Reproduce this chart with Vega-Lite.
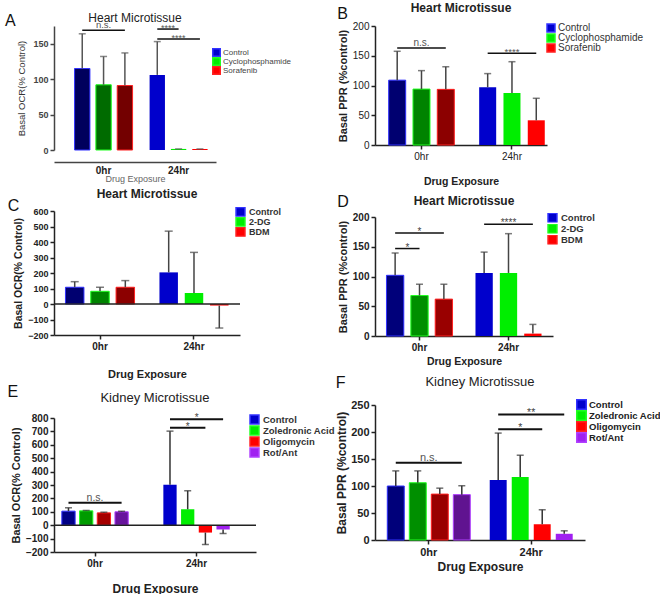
{
"$schema":"https://vega.github.io/schema/vega-lite/v6.json",
"background":"white",
"padding":{"left":4,"top":2,"right":0,"bottom":0},
"config":{"font":"Liberation Sans","view":{"stroke":null},"axis":{"grid":false,"domainColor":"#222","tickColor":"#222","labelColor":"#222","titleColor":"#222","domainWidth":1.5,"tickWidth":1.5,"labelOverlap":false},"legend":{"padding":0,"titlePadding":0}},
"datasets":{
"bars":[
{"panel":"A","time":"0hr","group":"Control","value":115,"err":164},
{"panel":"A","time":"0hr","group":"Cyclophosphamide","value":92,"err":132},
{"panel":"A","time":"0hr","group":"Sorafenib","value":91,"err":137},
{"panel":"A","time":"24hr","group":"Control","value":106,"err":153},
{"panel":"A","time":"24hr","group":"Cyclophosphamide","value":1.5,"err":1.5},
{"panel":"A","time":"24hr","group":"Sorafenib","value":1.5,"err":1.5},
{"panel":"B","time":"0hr","group":"Control","value":109,"err":157.5},
{"panel":"B","time":"0hr","group":"Cyclophosphamide","value":94,"err":125},
{"panel":"B","time":"0hr","group":"Sorafenib","value":93.5,"err":131.5},
{"panel":"B","time":"24hr","group":"Control","value":97,"err":120},
{"panel":"B","time":"24hr","group":"Cyclophosphamide","value":87.5,"err":140},
{"panel":"B","time":"24hr","group":"Sorafenib","value":41.5,"err":78.5},
{"panel":"C","time":"0hr","group":"Control","value":108,"err":144},
{"panel":"C","time":"0hr","group":"2-DG","value":82,"err":108},
{"panel":"C","time":"0hr","group":"BDM","value":108,"err":151},
{"panel":"C","time":"24hr","group":"Control","value":204,"err":470},
{"panel":"C","time":"24hr","group":"2-DG","value":71,"err":333},
{"panel":"C","time":"24hr","group":"BDM","value":-10,"err":-155},
{"panel":"D","time":"0hr","group":"Control","value":102,"err":139.5},
{"panel":"D","time":"0hr","group":"2-DG","value":68,"err":87},
{"panel":"D","time":"0hr","group":"BDM","value":62,"err":87},
{"panel":"D","time":"24hr","group":"Control","value":106,"err":141},
{"panel":"D","time":"24hr","group":"2-DG","value":106,"err":172},
{"panel":"D","time":"24hr","group":"BDM","value":4,"err":19.5},
{"panel":"E","time":"0hr","group":"Control","value":105,"err":130},
{"panel":"E","time":"0hr","group":"Zoledronic Acid","value":107,"err":110},
{"panel":"E","time":"0hr","group":"Oligomycin","value":92,"err":97},
{"panel":"E","time":"0hr","group":"Rot/Ant","value":100,"err":104},
{"panel":"E","time":"24hr","group":"Control","value":302,"err":702},
{"panel":"E","time":"24hr","group":"Zoledronic Acid","value":119,"err":257},
{"panel":"E","time":"24hr","group":"Oligomycin","value":-55,"err":-144},
{"panel":"E","time":"24hr","group":"Rot/Ant","value":-32,"err":-62},
{"panel":"F","time":"0hr","group":"Control","value":100,"err":128},
{"panel":"F","time":"0hr","group":"Zoledronic Acid","value":106,"err":128},
{"panel":"F","time":"0hr","group":"Oligomycin","value":85,"err":96},
{"panel":"F","time":"0hr","group":"Rot/Ant","value":84,"err":100.5},
{"panel":"F","time":"24hr","group":"Control","value":111,"err":198},
{"panel":"F","time":"24hr","group":"Zoledronic Acid","value":116.5,"err":157},
{"panel":"F","time":"24hr","group":"Oligomycin","value":29,"err":56},
{"panel":"F","time":"24hr","group":"Rot/Ant","value":11.5,"err":17}
],
"brackets":[
{"panel":"A","id":"a1","time":"0hr","group":"Control","y":169},
{"panel":"A","id":"a1","time":"0hr","group":"Sorafenib","y":169},
{"panel":"A","id":"a2","time":"24hr","group":"Control","y":170.7},
{"panel":"A","id":"a2","time":"24hr","group":"Cyclophosphamide","y":170.7},
{"panel":"A","id":"a3","time":"24hr","group":"Control","y":156.6},
{"panel":"A","id":"a3","time":"24hr","group":"Sorafenib","y":156.6},
{"panel":"B","id":"b1","time":"0hr","group":"Control","y":163},
{"panel":"B","id":"b1","time":"0hr","group":"Sorafenib","y":163},
{"panel":"B","id":"b2","time":"24hr","group":"Control","y":154},
{"panel":"B","id":"b2","time":"24hr","group":"Sorafenib","y":154},
{"panel":"D","id":"d1","time":"0hr","group":"Control","y":147},
{"panel":"D","id":"d1","time":"0hr","group":"2-DG","y":147},
{"panel":"D","id":"d2","time":"0hr","group":"Control","y":173},
{"panel":"D","id":"d2","time":"0hr","group":"BDM","y":173},
{"panel":"D","id":"d3","time":"24hr","group":"Control","y":188},
{"panel":"D","id":"d3","time":"24hr","group":"BDM","y":188},
{"panel":"E","id":"e1","time":"0hr","group":"Control","y":167},
{"panel":"E","id":"e1","time":"0hr","group":"Rot/Ant","y":167},
{"panel":"E","id":"e2","time":"24hr","group":"Control","y":727},
{"panel":"E","id":"e2","time":"24hr","group":"Oligomycin","y":727},
{"panel":"E","id":"e3","time":"24hr","group":"Control","y":791},
{"panel":"E","id":"e3","time":"24hr","group":"Rot/Ant","y":791},
{"panel":"F","id":"f1","time":"0hr","group":"Control","y":143},
{"panel":"F","id":"f1","time":"0hr","group":"Rot/Ant","y":143},
{"panel":"F","id":"f2","time":"24hr","group":"Control","y":205},
{"panel":"F","id":"f2","time":"24hr","group":"Oligomycin","y":205},
{"panel":"F","id":"f3","time":"24hr","group":"Control","y":232.6},
{"panel":"F","id":"f3","time":"24hr","group":"Rot/Ant","y":232.6}
],
"sig":[
{"panel":"A","time":"0hr","group":"Cyclophosphamide","y":169,"label":"n.s.","span":3},
{"panel":"A","time":"24hr","group":"Control","y":170.7,"label":"****","span":2},
{"panel":"A","time":"24hr","group":"Cyclophosphamide","y":156.6,"label":"****","span":3},
{"panel":"B","time":"0hr","group":"Cyclophosphamide","y":163,"label":"n.s.","span":3},
{"panel":"B","time":"24hr","group":"Cyclophosphamide","y":154,"label":"****","span":3},
{"panel":"D","time":"0hr","group":"Control","y":147,"label":"*","span":2},
{"panel":"D","time":"0hr","group":"2-DG","y":173,"label":"*","span":3},
{"panel":"D","time":"24hr","group":"2-DG","y":188,"label":"****","span":3},
{"panel":"E","time":"0hr","group":"Zoledronic Acid","y":167,"label":"n.s.","span":4},
{"panel":"E","time":"24hr","group":"Zoledronic Acid","y":727,"label":"*","span":3},
{"panel":"E","time":"24hr","group":"Zoledronic Acid","y":791,"label":"*","span":4},
{"panel":"F","time":"0hr","group":"Zoledronic Acid","y":143,"label":"n.s.","span":4},
{"panel":"F","time":"24hr","group":"Zoledronic Acid","y":205,"label":"*","span":3},
{"panel":"F","time":"24hr","group":"Zoledronic Acid","y":232.6,"label":"**","span":4}
]
},
"resolve":{"scale":{"color":"independent","stroke":"independent","xOffset":"independent"},"legend":{"color":"independent"}},
"spacing":0,"align":"none",
"hconcat":[
{"resolve":{"scale":{"color":"independent","stroke":"independent","xOffset":"independent"},"legend":{"color":"independent"}},
"spacing":5,"align":"each",
"vconcat":[
{"resolve":{"scale":{"color":"independent","stroke":"independent","xOffset":"independent"},"legend":{"color":"independent"}},
"title":{"text":"A","anchor":"start","frame":"bounds","fontSize":16,"fontWeight":"normal","color":"#111","offset":-17,"dx":-12},
"vconcat":[{
"width":162,"height":124,
"title":{"text":"Heart Microtissue","fontSize":12,"fontWeight":"normal","offset":-5,"color":"#222"},
"layer":[
{"data":{"name":"bars"},"transform":[{"filter":"datum.panel=='A'"}],"mark":{"type":"bar"},
"encoding":{
"x":{"field":"time","type":"nominal","scale":{"domain":["0hr","24hr"],"paddingInner":0.227,"paddingOuter":0.193,"align":0.71},"axis":{"title":"Drug Exposure","labelAngle":0,"ticks":false,"offset":12,"labelFontWeight":"bold","labelFontSize":10,"labelPadding":3,"titleFontWeight":"normal","titleFontSize":9,"titleColor":"#666","titlePadding":-1,"domainColor":"#444"}},
"xOffset":{"field":"group","type":"nominal","scale":{"domain":["Control","Cyclophosphamide","Sorafenib"],"paddingInner":0.28,"paddingOuter":0}},
"y":{"field":"value","type":"quantitative","scale":{"domain":[0,175],"nice":false,"zero":false},"axis":{"title":"Basal OCR(% Control)","values":[0,50,100,150],"tickCount":4,"labelOverlap":false,"tickSize":4,"labelFontSize":9,"labelFontWeight":"bold","labelColor":"#444","titleFontSize":9.5,"titleFontWeight":"normal","titleColor":"#333","titlePadding":6,"domainColor":"#444","tickColor":"#444"}},
"color":{"field":"group","type":"nominal","scale":{"domain":["Control","Cyclophosphamide","Sorafenib"],"range":["#0000cc","#00ee00","#ff0000"]},"legend":{"orient":"none","legendX":158,"legendY":22,"title":null,"symbolType":"square","symbolSize":56,"labelFontSize":8,"labelColor":"#444","rowPadding":0,"clipHeight":9,"labelOffset":2}}
}},
{"data":{"name":"bars"},"transform":[{"filter":"datum.panel=='A' && datum.time=='0hr'"}],"mark":{"type":"bar","fill":"black","fillOpacity":0.55,"strokeWidth":1},
"encoding":{"x":{"field":"time","type":"nominal"},"xOffset":{"field":"group","type":"nominal"},"y":{"field":"value","type":"quantitative"},"stroke":{"field":"group","type":"nominal","scale":{"domain":["Control","Cyclophosphamide","Sorafenib"],"range":["#3333ff","#22ff22","#ff2222"]},"legend":null}}},
{"data":{"name":"bars"},"transform":[{"filter":"datum.panel=='A'"}],"mark":{"type":"rule","color":"#555","strokeWidth":1.5},
"encoding":{"x":{"field":"time","type":"nominal"},"xOffset":{"field":"group","type":"nominal"},"y":{"field":"value","type":"quantitative"},"y2":{"field":"err"}}},
{"data":{"name":"bars"},"transform":[{"filter":"datum.panel=='A'"}],"mark":{"type":"tick","orient":"horizontal","color":"#555","size":7,"thickness":1.5},
"encoding":{"x":{"field":"time","type":"nominal"},"xOffset":{"field":"group","type":"nominal"},"y":{"field":"err","type":"quantitative"}}},
{"data":{"name":"brackets"},"transform":[{"filter":"datum.panel=='A'"}],"mark":{"type":"line","color":"#111","strokeWidth":1.5},
"encoding":{"x":{"field":"time","type":"nominal"},"xOffset":{"field":"group","type":"nominal"},"y":{"field":"y","type":"quantitative"},"detail":{"field":"id"}}},
{"data":{"name":"sig"},"transform":[{"filter":"datum.panel=='A' && datum.span % 2 == 1 && datum.label == 'n.s.'"}],"mark":{"type":"text","baseline":"alphabetic","dy":-2,"fontSize":9.5,"color":"#555"},
"encoding":{"x":{"field":"time","type":"nominal"},"xOffset":{"field":"group","type":"nominal"},"y":{"field":"y","type":"quantitative"},"text":{"field":"label"}}},
{"data":{"name":"sig"},"transform":[{"filter":"datum.panel=='A' && datum.span % 2 == 1 && datum.label != 'n.s.'"}],"mark":{"type":"text","baseline":"alphabetic","dy":2,"fontSize":9,"color":"#555"},
"encoding":{"x":{"field":"time","type":"nominal"},"xOffset":{"field":"group","type":"nominal"},"y":{"field":"y","type":"quantitative"},"text":{"field":"label"}}},
{"data":{"name":"sig"},"transform":[{"filter":"datum.panel=='A' && datum.span % 2 == 0"}],"mark":{"type":"text","baseline":"alphabetic","dy":2,"dx":10.6,"fontSize":9,"color":"#555"},
"encoding":{"x":{"field":"time","type":"nominal"},"xOffset":{"field":"group","type":"nominal"},"y":{"field":"y","type":"quantitative"},"text":{"field":"label"}}}
]}]},
{"resolve":{"scale":{"color":"independent","stroke":"independent","xOffset":"independent"},"legend":{"color":"independent"}},
"title":{"text":"C","anchor":"start","frame":"bounds","fontSize":16,"fontWeight":"normal","color":"#111","offset":-26,"dx":-6},
"vconcat":[{
"width":186,"height":124,
"title":{"text":"Heart Microtissue","fontSize":12,"fontWeight":"bold","offset":6,"color":"#222"},
"layer":[
{"data":{"name":"bars"},"transform":[{"filter":"datum.panel=='C'"}],"mark":{"type":"bar"},
"encoding":{
"x":{"field":"time","type":"nominal","scale":{"domain":["0hr","24hr"],"paddingInner":0.265,"paddingOuter":0.122},"axis":{"title":"Drug Exposure","labelAngle":0,"tickSize":4,"labelFontWeight":"bold","labelFontSize":10,"labelPadding":2,"titleFontWeight":"bold","titleFontSize":11,"titlePadding":17}},
"xOffset":{"field":"group","type":"nominal","scale":{"domain":["Control","2-DG","BDM"],"paddingInner":0.27,"paddingOuter":0}},
"y":{"field":"value","type":"quantitative","scale":{"domain":[-200,600],"nice":false,"zero":false},"axis":{"title":"Basal OCR(% Control)","values":[-200,-100,0,100,200,300,400,500,600],"tickCount":9,"labelOverlap":false,"tickSize":4,"labelFontSize":9,"labelFontWeight":"bold","titleFontSize":10.5,"titleFontWeight":"bold","titlePadding":4}},
"color":{"field":"group","type":"nominal","scale":{"domain":["Control","2-DG","BDM"],"range":["#0000cc","#00ee00","#ff0000"]},"legend":{"orient":"none","legendX":181,"legendY":-4,"title":null,"symbolType":"square","symbolSize":80,"labelFontSize":9,"labelFontWeight":"bold","labelColor":"#333","rowPadding":0,"clipHeight":9.7,"labelOffset":3}}
}},
{"data":{"name":"bars"},"transform":[{"filter":"datum.panel=='C' && datum.time=='0hr'"}],"mark":{"type":"bar","fill":"black","fillOpacity":0.45,"strokeWidth":1},
"encoding":{"x":{"field":"time","type":"nominal"},"xOffset":{"field":"group","type":"nominal"},"y":{"field":"value","type":"quantitative"},"stroke":{"field":"group","type":"nominal","scale":{"domain":["Control","2-DG","BDM"],"range":["#3333ff","#22ff22","#ff2222"]},"legend":null}}},
{"data":{"values":[{}]},"mark":{"type":"rule","color":"#222","strokeWidth":1.5},"encoding":{"y":{"datum":0,"type":"quantitative"}}},
{"data":{"name":"bars"},"transform":[{"filter":"datum.panel=='C'"}],"mark":{"type":"rule","color":"#444","strokeWidth":1.5},
"encoding":{"x":{"field":"time","type":"nominal"},"xOffset":{"field":"group","type":"nominal"},"y":{"field":"value","type":"quantitative"},"y2":{"field":"err"}}},
{"data":{"name":"bars"},"transform":[{"filter":"datum.panel=='C'"}],"mark":{"type":"tick","orient":"horizontal","color":"#444","size":8,"thickness":1.5},
"encoding":{"x":{"field":"time","type":"nominal"},"xOffset":{"field":"group","type":"nominal"},"y":{"field":"err","type":"quantitative"}}}
]}]},
{"resolve":{"scale":{"color":"independent","stroke":"independent","xOffset":"independent"},"legend":{"color":"independent"}},
"title":{"text":"E","anchor":"start","frame":"bounds","fontSize":16,"fontWeight":"normal","color":"#111","offset":-8,"dx":-3},
"vconcat":[{
"width":202,"height":134,
"title":{"text":"Kidney Microtissue","fontSize":13,"fontWeight":"normal","offset":8,"color":"#222"},
"layer":[
{"data":{"name":"bars"},"transform":[{"filter":"datum.panel=='E'"}],"mark":{"type":"bar"},
"encoding":{
"x":{"field":"time","type":"nominal","scale":{"domain":["0hr","24hr"],"paddingInner":0.346,"paddingOuter":0.168,"align":0.23},"axis":{"title":"Drug Exposure","labelAngle":0,"tickSize":4,"labelFontWeight":"bold","labelFontSize":10,"labelPadding":2,"titleFontWeight":"bold","titleFontSize":12,"titlePadding":15}},
"xOffset":{"field":"group","type":"nominal","scale":{"domain":["Control","Zoledronic Acid","Oligomycin","Rot/Ant"],"paddingInner":0.25,"paddingOuter":0}},
"y":{"field":"value","type":"quantitative","scale":{"domain":[-200,800],"nice":false,"zero":false},"axis":{"title":"Basal OCR(% Control)","values":[-200,-100,0,100,200,300,400,500,600,700,800],"tickCount":11,"labelOverlap":false,"tickSize":4,"labelFontSize":10,"labelFontWeight":"bold","titleFontSize":11,"titleFontWeight":"bold","titlePadding":4}},
"color":{"field":"group","type":"nominal","scale":{"domain":["Control","Zoledronic Acid","Oligomycin","Rot/Ant"],"range":["#0000cc","#00ee00","#ff0000","#a020f0"]},"legend":{"orient":"none","legendX":195,"legendY":-4,"title":null,"symbolType":"square","symbolSize":80,"labelFontSize":9.5,"labelFontWeight":"bold","labelColor":"#333","rowPadding":0,"clipHeight":11,"labelOffset":3}}
}},
{"data":{"name":"bars"},"transform":[{"filter":"datum.panel=='E' && datum.time=='0hr'"}],"mark":{"type":"bar","fill":"black","fillOpacity":0.35,"strokeWidth":1},
"encoding":{"x":{"field":"time","type":"nominal"},"xOffset":{"field":"group","type":"nominal"},"y":{"field":"value","type":"quantitative"},"stroke":{"field":"group","type":"nominal","scale":{"domain":["Control","Zoledronic Acid","Oligomycin","Rot/Ant"],"range":["#3333ff","#22ff22","#ff2222","#b040ff"]},"legend":null}}},
{"data":{"values":[{}]},"mark":{"type":"rule","color":"#222","strokeWidth":1.5},"encoding":{"y":{"datum":0,"type":"quantitative"}}},
{"data":{"name":"bars"},"transform":[{"filter":"datum.panel=='E'"}],"mark":{"type":"rule","color":"#333","strokeWidth":1.5},
"encoding":{"x":{"field":"time","type":"nominal"},"xOffset":{"field":"group","type":"nominal"},"y":{"field":"value","type":"quantitative"},"y2":{"field":"err"}}},
{"data":{"name":"bars"},"transform":[{"filter":"datum.panel=='E'"}],"mark":{"type":"tick","orient":"horizontal","color":"#333","size":7,"thickness":1.5},
"encoding":{"x":{"field":"time","type":"nominal"},"xOffset":{"field":"group","type":"nominal"},"y":{"field":"err","type":"quantitative"}}},
{"data":{"name":"brackets"},"transform":[{"filter":"datum.panel=='E'"}],"mark":{"type":"line","color":"#111","strokeWidth":2},
"encoding":{"x":{"field":"time","type":"nominal"},"xOffset":{"field":"group","type":"nominal"},"y":{"field":"y","type":"quantitative"},"detail":{"field":"id"}}},
{"data":{"name":"sig"},"transform":[{"filter":"datum.panel=='E' && datum.span % 2 == 0 && datum.label == 'n.s.'"}],"mark":{"type":"text","baseline":"alphabetic","dy":-2,"dx":8.9,"fontSize":10.5,"color":"#555"},
"encoding":{"x":{"field":"time","type":"nominal"},"xOffset":{"field":"group","type":"nominal"},"y":{"field":"y","type":"quantitative"},"text":{"field":"label"}}},
{"data":{"name":"sig"},"transform":[{"filter":"datum.panel=='E' && datum.span % 2 == 1 && datum.label != 'n.s.'"}],"mark":{"type":"text","baseline":"alphabetic","dy":2,"fontSize":10,"color":"#444"},
"encoding":{"x":{"field":"time","type":"nominal"},"xOffset":{"field":"group","type":"nominal"},"y":{"field":"y","type":"quantitative"},"text":{"field":"label"}}},
{"data":{"name":"sig"},"transform":[{"filter":"datum.panel=='E' && datum.span % 2 == 0 && datum.label != 'n.s.'"}],"mark":{"type":"text","baseline":"alphabetic","dy":2,"dx":8.9,"fontSize":10,"color":"#444"},
"encoding":{"x":{"field":"time","type":"nominal"},"xOffset":{"field":"group","type":"nominal"},"y":{"field":"y","type":"quantitative"},"text":{"field":"label"}}}
]}]}
]},
{"resolve":{"scale":{"color":"independent","stroke":"independent","xOffset":"independent"},"legend":{"color":"independent"}},
"spacing":7,"align":"each",
"vconcat":[
{"resolve":{"scale":{"color":"independent","stroke":"independent","xOffset":"independent"},"legend":{"color":"independent"}},
"title":{"text":"B","anchor":"start","frame":"bounds","fontSize":16,"fontWeight":"normal","color":"#111","offset":-20,"dx":0},
"vconcat":[{
"width":172,"height":119,
"title":{"text":"Heart Microtissue","fontSize":12,"fontWeight":"bold","offset":6,"color":"#222"},
"layer":[
{"data":{"name":"bars"},"transform":[{"filter":"datum.panel=='B'"}],"mark":{"type":"bar"},
"encoding":{
"x":{"field":"time","type":"nominal","scale":{"domain":["0hr","24hr"],"paddingInner":0.275,"paddingOuter":0.088,"align":0.86},"axis":{"title":"Drug Exposure","labelAngle":0,"tickSize":4,"labelFontWeight":"normal","labelFontSize":10,"labelPadding":2,"titleFontWeight":"bold","titleFontSize":10.5,"titlePadding":15}},
"xOffset":{"field":"group","type":"nominal","scale":{"domain":["Control","Cyclophosphamide","Sorafenib"],"paddingInner":0.3,"paddingOuter":0}},
"y":{"field":"value","type":"quantitative","scale":{"domain":[0,200],"nice":false,"zero":false},"axis":{"title":"Basal PPR (%control)","values":[0,50,100,150,200],"tickCount":5,"labelOverlap":false,"tickSize":4,"labelFontSize":10,"labelFontWeight":"normal","titleFontSize":11,"titleFontWeight":"bold","titlePadding":4}},
"color":{"field":"group","type":"nominal","scale":{"domain":["Control","Cyclophosphamide","Sorafenib"],"range":["#0000cc","#00ee00","#ff0000"]},"legend":{"orient":"none","legendX":171,"legendY":-3,"title":null,"symbolType":"square","symbolSize":64,"labelFontSize":10,"labelColor":"#333","rowPadding":0,"clipHeight":10,"labelOffset":2}}
}},
{"data":{"name":"bars"},"transform":[{"filter":"datum.panel=='B' && datum.time=='0hr'"}],"mark":{"type":"bar","fill":"black","fillOpacity":0.45,"strokeWidth":1},
"encoding":{"x":{"field":"time","type":"nominal"},"xOffset":{"field":"group","type":"nominal"},"y":{"field":"value","type":"quantitative"},"stroke":{"field":"group","type":"nominal","scale":{"domain":["Control","Cyclophosphamide","Sorafenib"],"range":["#3333ff","#22ff22","#ff2222"]},"legend":null}}},
{"data":{"name":"bars"},"transform":[{"filter":"datum.panel=='B'"}],"mark":{"type":"rule","color":"#444","strokeWidth":1.5},
"encoding":{"x":{"field":"time","type":"nominal"},"xOffset":{"field":"group","type":"nominal"},"y":{"field":"value","type":"quantitative"},"y2":{"field":"err"}}},
{"data":{"name":"bars"},"transform":[{"filter":"datum.panel=='B'"}],"mark":{"type":"tick","orient":"horizontal","color":"#444","size":7,"thickness":1.5},
"encoding":{"x":{"field":"time","type":"nominal"},"xOffset":{"field":"group","type":"nominal"},"y":{"field":"err","type":"quantitative"}}},
{"data":{"name":"brackets"},"transform":[{"filter":"datum.panel=='B'"}],"mark":{"type":"line","color":"#111","strokeWidth":1.5},
"encoding":{"x":{"field":"time","type":"nominal"},"xOffset":{"field":"group","type":"nominal"},"y":{"field":"y","type":"quantitative"},"detail":{"field":"id"}}},
{"data":{"name":"sig"},"transform":[{"filter":"datum.panel=='B' && datum.label == 'n.s.'"}],"mark":{"type":"text","baseline":"alphabetic","dy":-2,"fontSize":10,"color":"#555"},
"encoding":{"x":{"field":"time","type":"nominal"},"xOffset":{"field":"group","type":"nominal"},"y":{"field":"y","type":"quantitative"},"text":{"field":"label"}}},
{"data":{"name":"sig"},"transform":[{"filter":"datum.panel=='B' && datum.label != 'n.s.'"}],"mark":{"type":"text","baseline":"alphabetic","dy":2,"fontSize":9.5,"color":"#555"},
"encoding":{"x":{"field":"time","type":"nominal"},"xOffset":{"field":"group","type":"nominal"},"y":{"field":"y","type":"quantitative"},"text":{"field":"label"}}}
]}]},
{"resolve":{"scale":{"color":"independent","stroke":"independent","xOffset":"independent"},"legend":{"color":"independent"}},
"title":{"text":"D","anchor":"start","frame":"bounds","fontSize":16,"fontWeight":"normal","color":"#111","offset":-15,"dx":0},
"vconcat":[{
"width":178,"height":119,
"title":{"text":"Heart Microtissue","fontSize":12,"fontWeight":"bold","offset":4,"color":"#222"},
"layer":[
{"data":{"name":"bars"},"transform":[{"filter":"datum.panel=='D'"}],"mark":{"type":"bar"},
"encoding":{
"x":{"field":"time","type":"nominal","scale":{"domain":["0hr","24hr"],"paddingInner":0.258,"paddingOuter":0.129},"axis":{"title":"Drug Exposure","labelAngle":0,"tickSize":4,"labelFontWeight":"bold","labelFontSize":10,"labelPadding":2,"titleFontWeight":"bold","titleFontSize":10.5,"titlePadding":4}},
"xOffset":{"field":"group","type":"nominal","scale":{"domain":["Control","2-DG","BDM"],"paddingInner":0.29,"paddingOuter":0}},
"y":{"field":"value","type":"quantitative","scale":{"domain":[0,200],"nice":false,"zero":false},"axis":{"title":"Basal PPR (%control)","values":[0,50,100,150,200],"tickCount":5,"labelOverlap":false,"tickSize":4,"labelFontSize":10,"labelFontWeight":"bold","titleFontSize":11,"titleFontWeight":"bold","titlePadding":4}},
"color":{"field":"group","type":"nominal","scale":{"domain":["Control","2-DG","BDM"],"range":["#0000cc","#00ee00","#ff0000"]},"legend":{"orient":"none","legendX":172,"legendY":-4,"title":null,"symbolType":"square","symbolSize":80,"labelFontSize":9.5,"labelFontWeight":"bold","labelColor":"#333","rowPadding":0,"clipHeight":9.5,"labelOffset":3}}
}},
{"data":{"name":"bars"},"transform":[{"filter":"datum.panel=='D' && datum.time=='0hr'"}],"mark":{"type":"bar","fill":"black","fillOpacity":0.4,"strokeWidth":1},
"encoding":{"x":{"field":"time","type":"nominal"},"xOffset":{"field":"group","type":"nominal"},"y":{"field":"value","type":"quantitative"},"stroke":{"field":"group","type":"nominal","scale":{"domain":["Control","2-DG","BDM"],"range":["#3333ff","#22ff22","#ff2222"]},"legend":null}}},
{"data":{"name":"bars"},"transform":[{"filter":"datum.panel=='D'"}],"mark":{"type":"rule","color":"#444","strokeWidth":1.5},
"encoding":{"x":{"field":"time","type":"nominal"},"xOffset":{"field":"group","type":"nominal"},"y":{"field":"value","type":"quantitative"},"y2":{"field":"err"}}},
{"data":{"name":"bars"},"transform":[{"filter":"datum.panel=='D'"}],"mark":{"type":"tick","orient":"horizontal","color":"#444","size":7,"thickness":1.5},
"encoding":{"x":{"field":"time","type":"nominal"},"xOffset":{"field":"group","type":"nominal"},"y":{"field":"err","type":"quantitative"}}},
{"data":{"name":"brackets"},"transform":[{"filter":"datum.panel=='D'"}],"mark":{"type":"line","color":"#111","strokeWidth":1.5},
"encoding":{"x":{"field":"time","type":"nominal"},"xOffset":{"field":"group","type":"nominal"},"y":{"field":"y","type":"quantitative"},"detail":{"field":"id"}}},
{"data":{"name":"sig"},"transform":[{"filter":"datum.panel=='D' && datum.span % 2 == 1"}],"mark":{"type":"text","baseline":"alphabetic","dy":2,"fontSize":10,"color":"#444"},
"encoding":{"x":{"field":"time","type":"nominal"},"xOffset":{"field":"group","type":"nominal"},"y":{"field":"y","type":"quantitative"},"text":{"field":"label"}}},
{"data":{"name":"sig"},"transform":[{"filter":"datum.panel=='D' && datum.span % 2 == 0"}],"mark":{"type":"text","baseline":"alphabetic","dy":2,"dx":12.2,"fontSize":10,"color":"#444"},
"encoding":{"x":{"field":"time","type":"nominal"},"xOffset":{"field":"group","type":"nominal"},"y":{"field":"y","type":"quantitative"},"text":{"field":"label"}}}
]}]},
{"resolve":{"scale":{"color":"independent","stroke":"independent","xOffset":"independent"},"legend":{"color":"independent"}},
"title":{"text":"F","anchor":"start","frame":"bounds","fontSize":16,"fontWeight":"normal","color":"#111","offset":-15,"dx":0},
"vconcat":[{
"width":210,"height":135,
"title":{"text":"Kidney Microtissue","fontSize":13,"fontWeight":"normal","offset":10.5,"color":"#222"},
"layer":[
{"data":{"name":"bars"},"transform":[{"filter":"datum.panel=='F'"}],"mark":{"type":"bar"},
"encoding":{
"x":{"field":"time","type":"nominal","scale":{"domain":["0hr","24hr"],"paddingInner":0.19,"paddingOuter":0.12},"axis":{"title":"Drug Exposure","labelAngle":0,"tickSize":4,"labelFontWeight":"bold","labelFontSize":11,"labelPadding":2,"titleFontWeight":"bold","titleFontSize":12,"titlePadding":4}},
"xOffset":{"field":"group","type":"nominal","scale":{"domain":["Control","Zoledronic Acid","Oligomycin","Rot/Ant"],"paddingInner":0.23,"paddingOuter":0}},
"y":{"field":"value","type":"quantitative","scale":{"domain":[0,250],"nice":false,"zero":false},"axis":{"title":"Basal PPR (%control)","values":[0,50,100,150,200,250],"tickCount":6,"labelOverlap":false,"tickSize":4,"labelFontSize":11,"labelFontWeight":"bold","titleFontSize":12,"titleFontWeight":"bold","titlePadding":2}},
"color":{"field":"group","type":"nominal","scale":{"domain":["Control","Zoledronic Acid","Oligomycin","Rot/Ant"],"range":["#0000cc","#00ee00","#ff0000","#a020f0"]},"legend":{"orient":"none","legendX":201,"legendY":-6,"title":null,"symbolType":"square","symbolSize":90,"labelFontSize":9.5,"labelFontWeight":"bold","labelColor":"#222","rowPadding":0,"clipHeight":11,"labelOffset":2}}
}},
{"data":{"name":"bars"},"transform":[{"filter":"datum.panel=='F' && datum.time=='0hr'"}],"mark":{"type":"bar","fill":"black","fillOpacity":0.4,"strokeWidth":1},
"encoding":{"x":{"field":"time","type":"nominal"},"xOffset":{"field":"group","type":"nominal"},"y":{"field":"value","type":"quantitative"},"stroke":{"field":"group","type":"nominal","scale":{"domain":["Control","Zoledronic Acid","Oligomycin","Rot/Ant"],"range":["#3333ff","#22ff22","#ff2222","#b040ff"]},"legend":null}}},
{"data":{"name":"bars"},"transform":[{"filter":"datum.panel=='F'"}],"mark":{"type":"rule","color":"#333","strokeWidth":1.5},
"encoding":{"x":{"field":"time","type":"nominal"},"xOffset":{"field":"group","type":"nominal"},"y":{"field":"value","type":"quantitative"},"y2":{"field":"err"}}},
{"data":{"name":"bars"},"transform":[{"filter":"datum.panel=='F'"}],"mark":{"type":"tick","orient":"horizontal","color":"#333","size":7,"thickness":1.5},
"encoding":{"x":{"field":"time","type":"nominal"},"xOffset":{"field":"group","type":"nominal"},"y":{"field":"err","type":"quantitative"}}},
{"data":{"name":"brackets"},"transform":[{"filter":"datum.panel=='F'"}],"mark":{"type":"line","color":"#111","strokeWidth":2},
"encoding":{"x":{"field":"time","type":"nominal"},"xOffset":{"field":"group","type":"nominal"},"y":{"field":"y","type":"quantitative"},"detail":{"field":"id"}}},
{"data":{"name":"sig"},"transform":[{"filter":"datum.panel=='F' && datum.span % 2 == 0 && datum.label == 'n.s.'"}],"mark":{"type":"text","baseline":"alphabetic","dy":-2,"dx":11,"fontSize":11,"color":"#555"},
"encoding":{"x":{"field":"time","type":"nominal"},"xOffset":{"field":"group","type":"nominal"},"y":{"field":"y","type":"quantitative"},"text":{"field":"label"}}},
{"data":{"name":"sig"},"transform":[{"filter":"datum.panel=='F' && datum.span % 2 == 1 && datum.label != 'n.s.'"}],"mark":{"type":"text","baseline":"alphabetic","dy":2,"fontSize":10.5,"color":"#444"},
"encoding":{"x":{"field":"time","type":"nominal"},"xOffset":{"field":"group","type":"nominal"},"y":{"field":"y","type":"quantitative"},"text":{"field":"label"}}},
{"data":{"name":"sig"},"transform":[{"filter":"datum.panel=='F' && datum.span % 2 == 0 && datum.label != 'n.s.'"}],"mark":{"type":"text","baseline":"alphabetic","dy":2,"dx":11,"fontSize":10.5,"color":"#444"},
"encoding":{"x":{"field":"time","type":"nominal"},"xOffset":{"field":"group","type":"nominal"},"y":{"field":"y","type":"quantitative"},"text":{"field":"label"}}}
]}]}
]}
]
}
